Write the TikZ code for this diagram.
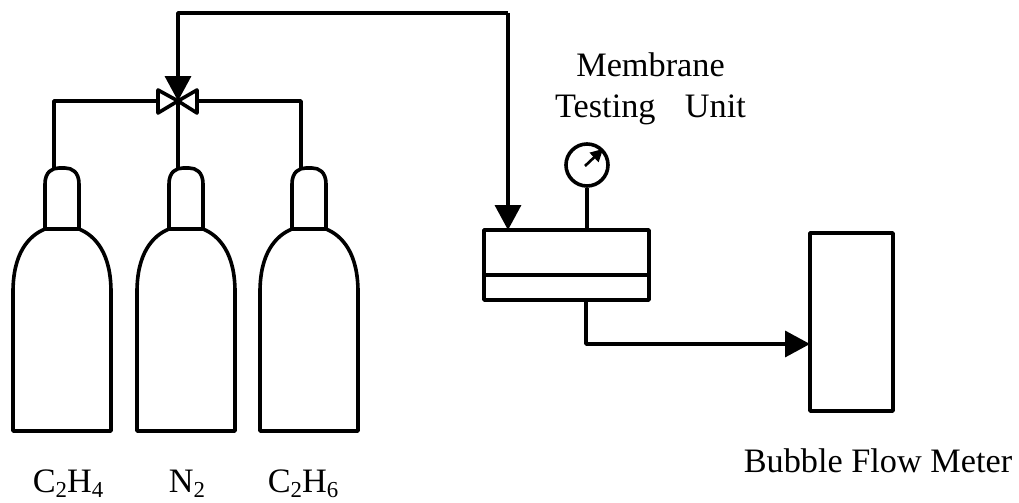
\documentclass[tikz,border=0pt]{standalone}
\usepackage{fontspec}
\setmainfont{Liberation Serif}
\usetikzlibrary{arrows.meta}
\newcommand{\lowsub}[1]{\raisebox{-0.12em}{\fontsize{13}{14}\selectfont #1}}
\begin{document}
\begin{tikzpicture}[x=0.02cm,y=-0.02cm,line join=round,
  pipe/.style={line width=2.05pt},
  vessel/.style={line width=2.05pt,draw,inner sep=0pt},
  flow/.style={pipe,-{Triangle[length=0.5cm,width=0.52cm]}},
  label/.style={font=\fontsize{19.5}{25}\selectfont,anchor=base,inner sep=0pt}]
\useasboundingbox (0,0) rectangle (1019,503);
% cylinders
\foreach \cx/\px/\lx/\nm/\ch in {62/54/68/a/{C\lowsub{2}H\lowsub{4}},186/178/187/b/{N\lowsub{2}},309/301/303/c/{C\lowsub{2}H\lowsub{6}}} {
  \draw[pipe] (\cx-49,431) -- (\cx-49,292) .. controls (\cx-49,254) and (\cx-34,236) .. (\cx-17,229)
    -- (\cx-17,184) .. controls (\cx-17,172) and (\cx-10,168) .. (\cx-3,168) -- (\cx+3,168)
    .. controls (\cx+10,168) and (\cx+17,172) .. (\cx+17,184) -- (\cx+17,229)
    .. controls (\cx+34,236) and (\cx+49,254) .. (\cx+49,292) -- (\cx+49,431) -- cycle;
  \draw[pipe] (\cx-17,229) -- (\cx+17,229);
  \coordinate (neck\nm) at (\px,168);
  \node[label] (name\nm) at (\lx,493) {\ch};
}
% valve
\coordinate (valve) at (178,101);
\coordinate (valveL) at (158,101);
\coordinate (valveR) at (197,101);
\draw[pipe] (valve) -- (158,90) -- (158,113) -- cycle;
\draw[pipe] (valve) -- (197,90) -- (197,113) -- cycle;
\draw[pipe] (necka) -- (necka |- valveL) -- (valveL);
\draw[pipe] (neckc) -- (neckc |- valveR) -- (valveR);
\draw[pipe] (neckb) -- (valve);
% membrane unit
\node[vessel,minimum width=3.3cm,minimum height=1.4cm] (unit) at (566.5,265) {};
\draw[pipe] (unit.west) ++(0,10) coordinate (splitL) -- (splitL -| unit.east);
\node[vessel,circle,minimum size=0.84cm] (gauge) at (587,165) {};
\coordinate (needle) at (585,166);
\coordinate (inlet) at (508,230);
\coordinate (outlet) at (586,300);
\draw[pipe] (gauge.south) -- (gauge.south |- unit.north);
\draw[line width=1.5pt,-{Triangle[length=0.25cm,width=0.25cm]}] (needle) -- (gauge.45);
% meter
\node[vessel,minimum width=1.66cm,minimum height=3.56cm] (meter) at (851.5,322) {};
\coordinate (meterin) at (810,344);
% lines
\draw[flow] (inlet |- 0,13) -- (inlet);
\draw[flow] (inlet |- 0,13) -- (valve |- 0,13) -- (valve);
\draw[flow] (outlet) -- (outlet |- meterin) -- (meterin);
% labels
\node[label] (unitname) at (650.5,77) {Membrane};
\node[label] (unitname2) at (650.5,118) {Testing\hspace{0.86em}Unit};
\node[label] (metername) at (878,473) {Bubble Flow Meter};
\end{tikzpicture}
\end{document}
